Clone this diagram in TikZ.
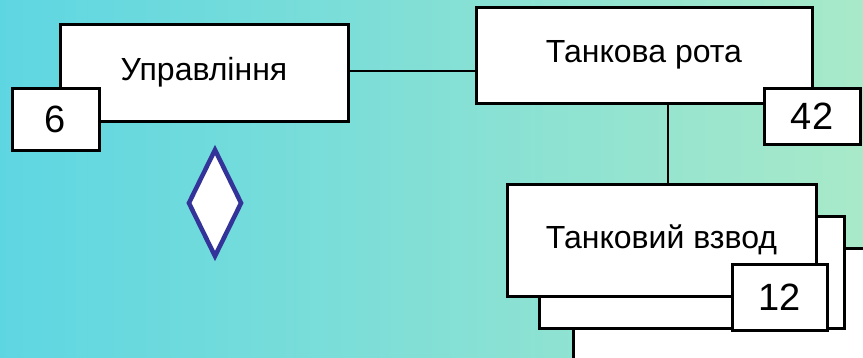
\documentclass[tikz,border=0pt]{standalone}
\usepackage{fontspec}
\setmainfont{Liberation Sans}
\usetikzlibrary{shapes.geometric}
\definecolor{bgL}{HTML}{5ED6E2}
\definecolor{bgR}{HTML}{A8E9C9}
\definecolor{dblue}{HTML}{333399}
\begin{document}
\begin{tikzpicture}[x=1pt,y=-1pt,
  box/.style={draw=black, fill=white, line width=3pt, rectangle, inner sep=0pt, font=\fontsize{32}{38}\selectfont},
  numbox/.style={box, font=\fontsize{38}{42}\selectfont},
  link/.style={draw=black, line width=2pt}]
\useasboundingbox (0,0) rectangle (863,357);
\shade[left color=bgL, right color=bgR] (0,0) rectangle (863,357);
\begin{scope}
\clip (0,0) rectangle (863,357);
\node[box, minimum width=320pt, minimum height=140pt, anchor=north west] (p3) at (572,247) {};
\end{scope}
\node[box, minimum width=305pt, minimum height=112pt] (p2) at (691.5,272) {};
\node[box, minimum width=309pt, minimum height=112pt] (vzvod) at (661.5,240) {Танковий взвод};
\node[numbox, minimum width=95pt, minimum height=66pt] (n12) at (779.5,297) {12};
\node[box, minimum width=288pt, minimum height=97pt] (upr) at (204,72.5) {Управління};
\node[numbox, minimum width=87pt, minimum height=62pt] (n6) at (55.5,119) {6};
\node[box, minimum width=336pt, minimum height=96pt] (rota) at (644,55) {Танкова рота};
\node[numbox, minimum width=96pt, minimum height=56pt] (n42) at (812,116) {42};
\coordinate (vx) at (668,0);
\coordinate (hy) at (0,71);
\draw[link] (upr.east |- hy) -- (rota.west |- hy);
\draw[link] (vx |- rota.south) -- (vx |- vzvod.north);
\node[diamond, draw=dblue, fill=white, line width=4.5pt, minimum width=54pt, minimum height=108pt, inner sep=0pt] (d) at (215,203) {};
\end{tikzpicture}
\end{document}
